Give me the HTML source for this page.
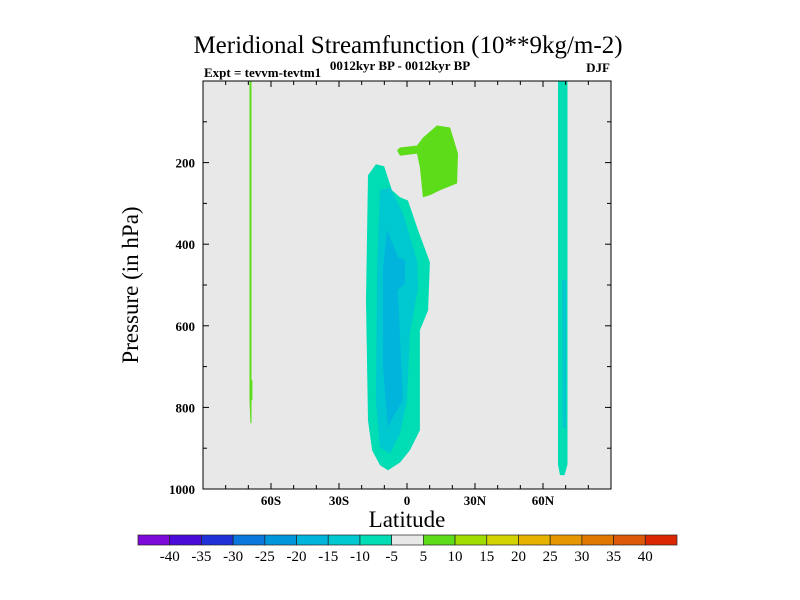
<!DOCTYPE html>
<html><head><meta charset="utf-8"><style>
html,body{margin:0;padding:0;background:#fff;}
svg{display:block;font-family:"Liberation Serif",serif;}
</style></head><body>
<svg id="chart" width="800" height="600" viewBox="0 0 800 600">
<text x="408" y="53" font-size="25" text-anchor="middle">Meridional Streamfunction (10**9kg/m-2)</text>
<text x="204" y="77" font-size="13" font-weight="bold">Expt = tevvm-tevtm1</text>
<text x="400" y="70" font-size="13" font-weight="bold" text-anchor="middle">0012kyr BP - 0012kyr BP</text>
<text x="610" y="72" font-size="13" font-weight="bold" text-anchor="end">DJF</text>
<rect x="203" y="81" width="408" height="408" fill="#e8e8e8"/>
<g id="fills"></g>
<g id="axes"></g>
<rect x="203" y="81" width="408" height="408" fill="none" stroke="#000" stroke-width="1"/>
<text x="407" y="527" font-size="23" text-anchor="middle">Latitude</text>
<text transform="translate(138,285) rotate(-90)" font-size="23" text-anchor="middle">Pressure (in hPa)</text>
<g id="colorbar"></g>
</svg>
<script>
const latTicks=[-60,-30,0,30,60];
const latTickLabels=["60S","30S","0","30N","60N"];
const presTicks=[200,400,600,800,1000];
const levelLabels=["-40","-35","-30","-25","-20","-15","-10","-5","5","10","15","20","25","30","35","40"];
const levelColors=["#7d0ad8","#4a0ad8","#1e32d8","#0a78dc","#0096dc","#00b4dc","#00c8d0","#00dcb4","#e8e8e8","#5ddc1a","#a0dc00","#d2d200","#e6b400","#e69600","#e07800","#dc5a0a","#dc2800"];
// contour regions in (lat, hPa)
const regionLevels=[7,6,5,9,7,6,9];
const regionPoints=[
 [[-17.2,231],[-13.7,204],[-10.1,209],[-6.6,268],[-3.1,285],[0.4,293],[4.9,366],[10.1,444],[9.3,562],[5.7,611],[5.7,856],[1.3,905],[-3.1,935],[-8.4,954],[-11.9,942],[-15.4,905],[-17.2,832],[-18.1,538]],
 [[-11.9,268],[-7.5,261],[-1.8,324],[4.4,440],[4.9,506],[1.3,618],[0,783],[-3.1,864],[-7.5,913],[-11.9,898],[-13.7,783],[-13.2,457]],
 [[-8.8,366],[-4,432],[-0.9,440],[-0.9,496],[-4,513],[-1.8,783],[-5.3,815],[-8.4,849],[-10.6,702],[-10.6,457]],
 [[13.2,109],[19,114],[22.5,178],[22.1,251],[14.6,268],[10.1,280],[7,285],[5.7,212],[4.4,178],[-3.1,183],[-4.4,170],[-3.1,163],[4.4,158],[7,139]],
 [[66.6,0],[70.8,0],[70.8,940],[69.5,966],[67.5,966],[66.6,940]],
 [[68.4,488],[70.3,488],[70.1,850],[68.6,850]],
 [[-69.5,0],[-68.6,0],[-68.6,733],[-68.2,733],[-68.2,782],[-68.6,782],[-68.6,839],[-69.1,839],[-69.5,782]]
];
const NS="http://www.w3.org/2000/svg";
const X0=203,X1=611,Y0=81,Y1=489;
const xs=lat=>X0+(lat+90)/180*(X1-X0);
const ys=p=>Y0+p/1000*(Y1-Y0);
const fills=document.getElementById('fills');
regionPoints.forEach((pts,i)=>{
 const pg=document.createElementNS(NS,'polygon');
 
 
 pg.setAttribute('points',pts.map(q=>xs(q[0]).toFixed(1)+','+ys(q[1]).toFixed(1)).join(' '));
 pg.setAttribute('fill',levelColors[regionLevels[i]]);
 fills.appendChild(pg);
});
const axes=document.getElementById('axes');
function line(x1,y1,x2,y2,name){const l=document.createElementNS(NS,'line');
 
 
 l.setAttribute('x1',x1);l.setAttribute('y1',y1);l.setAttribute('x2',x2);l.setAttribute('y2',y2);l.setAttribute('stroke','#000');axes.appendChild(l);}
function txt(x,y,s,anchor,size,name,parent){const t=document.createElementNS(NS,'text');
 
 
 t.setAttribute('x',x);t.setAttribute('y',y);t.setAttribute('text-anchor',anchor);t.setAttribute('font-size',size);t.setAttribute('font-weight','bold');t.textContent=s;(parent||axes).appendChild(t);}
for(let lat=-80;lat<=80;lat+=10){const major=lat%30===0;const L=major?6:4;const x=xs(lat);
 line(x,Y1,x,Y1-L,'x-tick');line(x,Y0,x,Y0+L,'x-tick-top');}
latTicks.forEach((v,i)=>txt(xs(v),505,latTickLabels[i],'middle',13,'x-tick-label'));
for(let p=100;p<1000;p+=100){const major=p%200===0;const L=major?6:4;const y=ys(p);
 line(X0,y,X0+L,y,'y-tick');line(X1,y,X1-L,y,'y-tick-right');}
presTicks.forEach(v=>txt(X0-8,ys(v)+5,String(v),'end',13,'y-tick-label'));
const cb=document.getElementById('colorbar');
const cbX=138,cbW=539,cbY=535,cbH=10,n=levelColors.length,w=cbW/n;
levelColors.forEach((c,i)=>{const r=document.createElementNS(NS,'rect');
 
 
 r.setAttribute('x',cbX+i*w);r.setAttribute('y',cbY);r.setAttribute('width',w);r.setAttribute('height',cbH);r.setAttribute('fill',c);r.setAttribute('stroke','#222');r.setAttribute('stroke-width','0.7');cb.appendChild(r);});
levelLabels.forEach((s,i)=>{const t=document.createElementNS(NS,'text');
 
 
 t.setAttribute('x',cbX+(i+1)*w);t.setAttribute('y',561);t.setAttribute('text-anchor','middle');t.setAttribute('font-size',15);t.textContent=s;cb.appendChild(t);});
</script>
</body></html>
